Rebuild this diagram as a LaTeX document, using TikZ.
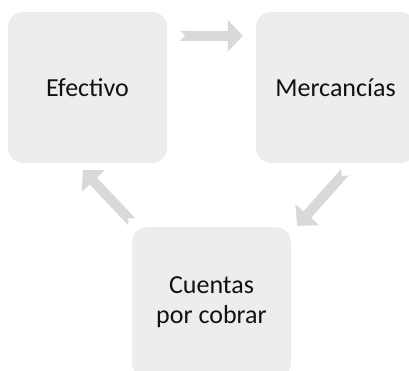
\documentclass[tikz,border=0pt]{standalone}
\usepackage{fontspec}
\setmainfont{Carlito}
\usepackage{tikz}
\usetikzlibrary{arrows.meta,positioning,calc}
\definecolor{boxgray}{HTML}{EDEDED}
\definecolor{arrowgray}{HTML}{D9D9D9}
\definecolor{textblack}{HTML}{111111}

\begin{document}
\begin{tikzpicture}[
  x=1pt, y=1pt,
  item/.style={
    fill=boxgray, rounded corners=15pt, minimum width=159pt,
    minimum height=151pt, align=center, inner sep=0pt,
    text=textblack, font=\fontsize{26}{30}\selectfont
  },
  flow/.style={
    {Triangle Cap[reversed]}-{Triangle[length=15pt, width=31pt]},
    line width=10pt, color=arrowgray
  }
]
  \useasboundingbox (0,0) rectangle (409,-371);
  \node[item] (cash) at (87.5,-87.5) {Efectivo};
  \node[item] (goods) at (335.5,-87.5) {Mercancías};
  \node[item] (receivables) at (211.5,-302.5) {Cuentas\\por cobrar};
  \draw[flow] ([xshift=13pt, yshift=-24pt]cash.north east) -- ([xshift=-13pt, yshift=-24pt]goods.north west);
  \draw[flow] ([xshift=9.5pt, yshift=-9pt]goods.south) -- ([xshift=6pt, yshift=1pt]receivables.north east);
  \draw[flow] ([yshift=5pt]receivables.north west) -- ([xshift=-4.5pt, yshift=-7pt]cash.south);
\end{tikzpicture}
\end{document}
